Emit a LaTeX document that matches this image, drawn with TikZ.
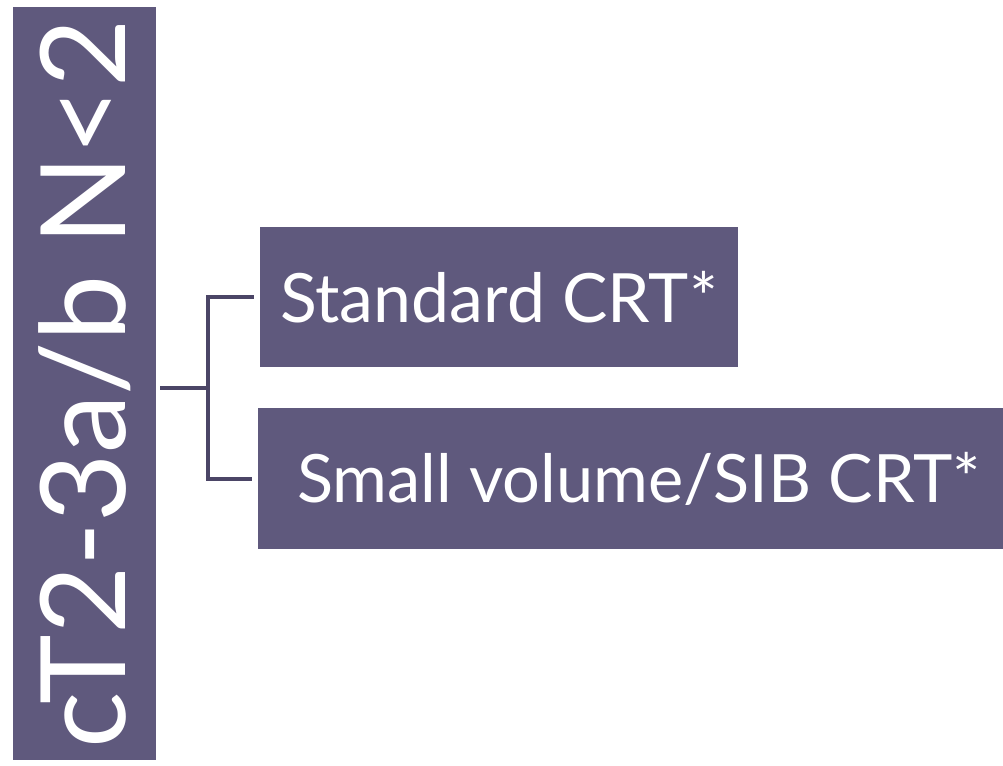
\documentclass[tikz,border=0pt]{standalone}
\usepackage{fontspec}
\setsansfont{Lato}
\usetikzlibrary{calc}
\definecolor{boxfill}{RGB}{95,89,125}
\definecolor{linkcol}{RGB}{75,69,102}
\tikzset{ b/.style = { rectangle
                       , fill = boxfill
                       , text = white
                       , inner sep    = 0pt
                       },
          link/.style = { draw = linkcol
                       , line width = 3pt
                       }
          }

\begin{document}
\begin{tikzpicture}[font=\sffamily, x=0.75pt, y=-0.75pt]
            \useasboundingbox (0,0) rectangle (1003,765);
            % left label, turned up
            \node[b, rotate=90, minimum width=753*0.75pt, minimum height=143*0.75pt,
                  font=\sffamily\fontsize{88.5}{88.5}\selectfont] (cat) at (84.5,383.5) {cT2-3a/b N<2};
            \node[b, minimum width=478*0.75pt, minimum height=140*0.75pt,
                  font=\sffamily\fontsize{51}{51}\selectfont] (std) at (499,297) {Standard CRT*};
            \node[b, minimum width=745*0.75pt, minimum height=141*0.75pt,
                  font=\sffamily\fontsize{50}{50}\selectfont] (sib) at (630.5,478.5) {\ Small volume/SIB CRT*};
            \coordinate (fork) at (208,388);
            \path[link] ([xshift=3pt]cat.south |- fork) -- (fork);
            \path[link] (fork) |- ([xshift=-4pt]std.west);
            \path[link] (fork) |- ([xshift=-4pt]sib.west);
\end{tikzpicture}
\end{document}
